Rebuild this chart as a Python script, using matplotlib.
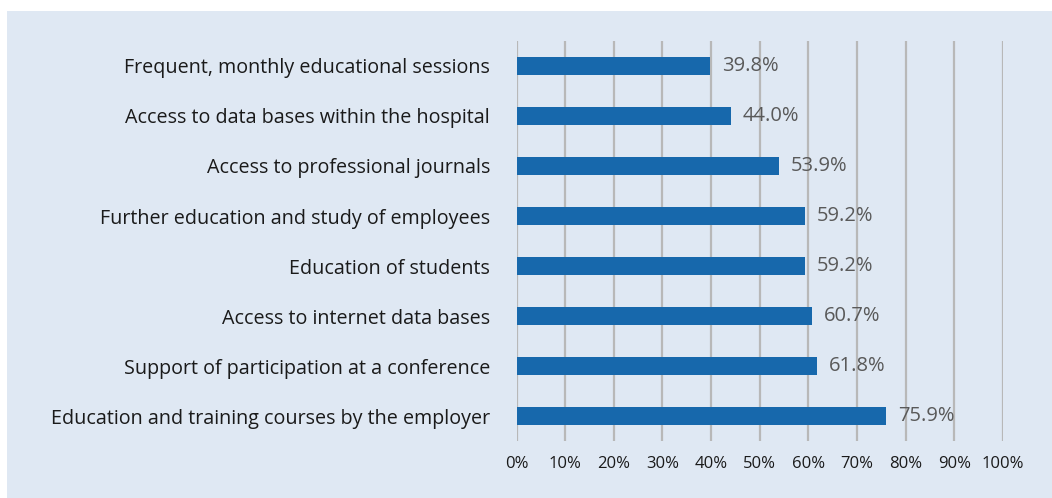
import matplotlib.pyplot as plt
import matplotlib.patches as mpatches
import numpy as np

categories = [
    "Frequent, monthly educational sessions",
    "Access to data bases within the hospital",
    "Access to professional journals",
    "Further education and study of employees",
    "Education of students",
    "Access to internet data bases",
    "Support of participation at a conference",
    "Education and training courses by the employer",
]
values = [39.8, 44.0, 53.9, 59.2, 59.2, 60.7, 61.8, 75.9]
xticks = list(range(0, 101, 10))

plt.rcParams['font.family'] = ['Open Sans', 'DejaVu Sans']

fig = plt.figure(figsize=(10.52, 4.98), dpi=100)
fig.patch.set_facecolor('white')
# light blue panel behind the chart
fig.add_artist(mpatches.Rectangle((7 / 1052, 0), 1, (498 - 11) / 498,
                                  transform=fig.transFigure,
                                  facecolor='#dfe8f3', edgecolor='none', zorder=-1))

ax = fig.add_axes([516.5 / 1052, 57 / 498, (1003 - 516.5) / 1052, 400 / 498])
ax.set_facecolor('none')

y = np.arange(len(categories))
ax.barh(y, values, height=0.37, color='#1768ac', zorder=3)

for yi, v in zip(y, values):
    ax.text(v + 2.5, yi, f'{v:.1f}%', va='center', ha='left',
            fontsize=14.5, color='#595959', zorder=4)

ax.set_xlim(0, 100)
ax.set_ylim(len(categories) - 0.5, -0.5)
ax.set_xticks(xticks)
ax.set_xticklabels([f'{t}%' for t in xticks], fontsize=12, color='#1a1a1a')
ax.set_yticks(y)
ax.set_yticklabels(categories, fontsize=14.2, color='#1a1a1a')
ax.tick_params(axis='both', length=0)
ax.tick_params(axis='x', pad=11)
ax.tick_params(axis='y', pad=19)

ax.xaxis.grid(True, color='#b8b8b8', linewidth=1.6, zorder=1)
ax.set_axisbelow(True)
for s in ax.spines.values():
    s.set_visible(False)

plt.savefig('out.png', dpi=100)
plt.close()
